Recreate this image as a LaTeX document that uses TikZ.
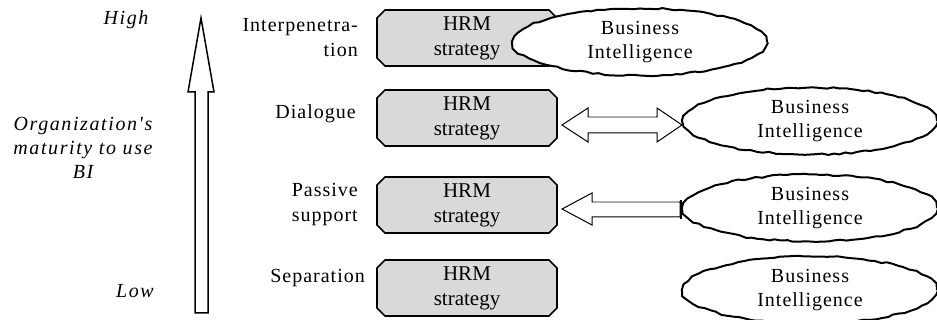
\documentclass[tikz,border=0pt]{standalone}
\usepackage{fontspec}
\setmainfont{Liberation Serif}
\newfontfamily\spacedfont[LetterSpace=5]{Liberation Serif}
\newfontfamily\widefont[LetterSpace=8]{Liberation Serif}
\usetikzlibrary{shapes.misc,shapes.geometric,decorations.pathmorphing,calc}
\definecolor{boxgray}{HTML}{D9D9D9}
\begin{document}
\begin{tikzpicture}[x=1pt,y=-1pt,
  hrm/.style={chamfered rectangle, chamfered rectangle xsep=4pt, chamfered rectangle ysep=4pt,
    draw, line width=1.6pt, fill=boxgray, minimum width=180, minimum height=56, inner sep=0pt,
    align=center, font=\fontsize{21}{25}\selectfont},
  bi/.style={ellipse, draw, line width=2pt, fill=white, minimum width=254, minimum height=67,
    inner sep=0pt, align=center, font=\spacedfont\fontsize{20}{24}\selectfont,
    decorate, decoration={random steps, segment length=6pt, amplitude=0.9pt}},
  lvl/.style={anchor=east, align=right, inner sep=0pt, font=\spacedfont\fontsize{20}{25}\selectfont},
  axis/.style={align=center, inner sep=0pt, font=\widefont\itshape\fontsize{20}{24}\selectfont},
  blockarrow/.style={draw, line width=1pt, fill=white, line join=miter},
  graytop/.style={draw=black!30, line width=1pt}]
\useasboundingbox (0,0) rectangle (937,320);

% axis arrow and texts
\draw[line width=1.5pt, line join=miter] (195,313) -- (195,92) -- (188,92) -- (201,18) -- (214,92) -- (208,92) -- (208,313) -- cycle;
\node[axis] (high) at (126,20) {High};
\node[axis] (org) at (83,148) {Organization's\\maturity to use\\BI};
\node[axis] (low) at (135,291) {Low};

% level labels
\node[lvl] (l1) at (358,38) {Interpenetra-\\tion};
\node[lvl] (l2) at (356,114) {Dialogue};
\node[lvl] (l3) at (358,205) {Passive\\support};
\node[lvl] (l4) at (365,278) {Separation};

% HRM boxes
\node[hrm] (h1) at (467,38) {HRM\\strategy};
\node[hrm] (h2) at (467,118) {HRM\\strategy};
\node[hrm] (h3) at (467,205) {HRM\\strategy};
\node[hrm] (h4) at (467,288) {HRM\\strategy};

% BI ellipses
\node[bi] (b1) at (640,42) {Business\\Intelligence};
\node[bi] (b2) at (810,121) {Business\\Intelligence};
\node[bi] (b3) at (810,208) {Business\\Intelligence};
\node[bi] (b4) at (810,290) {Business\\Intelligence};

% dialogue: double arrow
\draw[blockarrow] (562,125) -- (588,108) -- (588,117) -- (657,117) -- (657,108) -- (682,125)
  -- (657,142) -- (657,133) -- (588,133) -- (588,142) -- cycle;
\draw[graytop] (589,117) -- (656,117);

% passive support: single arrow
\draw[blockarrow] (562,209) -- (592,193) -- (592,202) -- (680,202) -- (680,217) -- (592,217) -- (592,225) -- cycle;
\draw[graytop] (593,202) -- (679,202);
\draw[line width=2.5pt] (681,200) -- (681,219);
\end{tikzpicture}
\end{document}
